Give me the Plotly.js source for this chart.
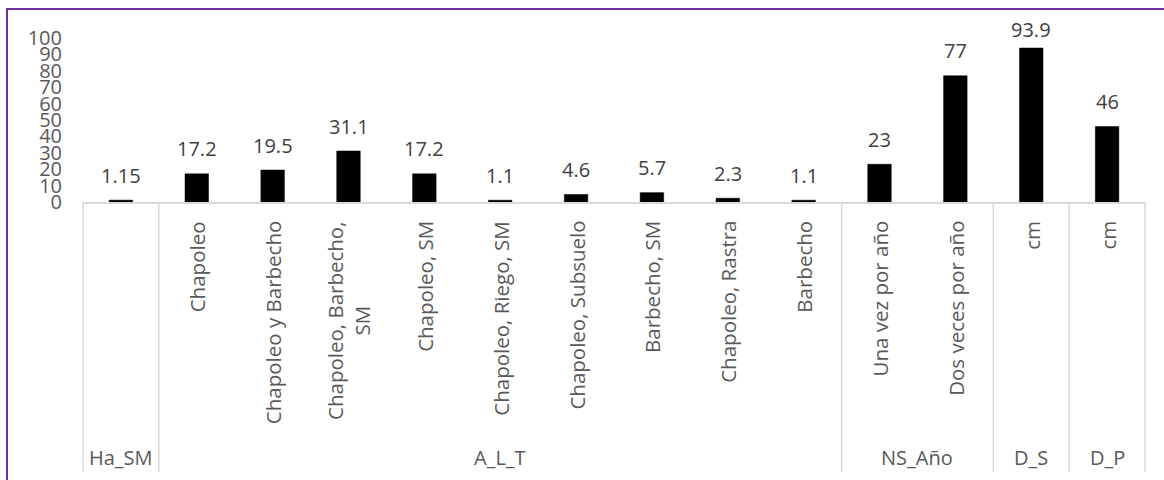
<!DOCTYPE html>
<html>
<head>
<meta charset="utf-8">
<script src="https://cdn.plot.ly/plotly-3.0.1.min.js"></script>
<style>
  html, body { margin: 0; padding: 0; background: #fff; }
  #wrap { position: relative; width: 1164px; height: 480px; overflow: hidden; }
  #chart { width: 1164px; height: 480px; }
  #frame {
    position: absolute; left: 6px; top: 8px; width: 1200px; height: 520px;
    border-left: 2px solid #7030A0; border-top: 2px solid #7030A0;
    pointer-events: none; box-sizing: border-box;
  }
</style>
</head>
<body>
<div id="wrap">
  <div id="chart"></div>
  <div id="frame"></div>
</div>
<script>
// Practices and their measured values, grouped by variable
const categories = [
  'Ha_SM',
  'Chapoleo', 'Chapoleo y Barbecho', 'Chapoleo, Barbecho, SM', 'Chapoleo, SM',
  'Chapoleo, Riego, SM', 'Chapoleo, Subsuelo', 'Barbecho, SM', 'Chapoleo, Rastra', 'Barbecho',
  'Una vez por año', 'Dos veces por año',
  'cm',
  'cm'
];
const innerLabels = [
  '',
  'Chapoleo', 'Chapoleo y Barbecho', 'Chapoleo, Barbecho,<br>SM', 'Chapoleo, SM',
  'Chapoleo, Riego, SM', 'Chapoleo, Subsuelo', 'Barbecho, SM', 'Chapoleo, Rastra', 'Barbecho',
  'Una vez por año', 'Dos veces por año',
  'cm',
  'cm'
];
const values = [1.15, 17.2, 19.5, 31.1, 17.2, 1.1, 4.6, 5.7, 2.3, 1.1, 23, 77, 93.9, 46];
const valueLabels = ['1.15', '17.2', '19.5', '31.1', '17.2', '1.1', '4.6', '5.7', '2.3', '1.1', '23', '77', '93.9', '46'];
const groups = ['Ha_SM', 'A_L_T', 'NS_Año', 'D_S', 'D_P'];
const groupSizes = [1, 9, 2, 1, 1];
const yTicks = [0, 10, 20, 30, 40, 50, 60, 70, 80, 90, 100];

const W = 1164, H = 480;
const M = { l: 83, r: 19, t: 38, b: 278 };
const plotH = H - M.t - M.b;
const pxToPaperY = px => (H - M.b - px) / plotH;

const positions = categories.map((_, i) => i);
const n = categories.length;
const FONT = '"Open Sans", "Noto Sans", sans-serif';
const AXIS_GREY = '#595959';
const LINE_GREY = '#d9d9d9';

const annotations = [];
const shapes = [];

// Data labels above each bar (kept inside the chart's top edge)
values.forEach((v, i) => {
  const barTopPx = M.t + plotH * (1 - v / 100);
  const shift = Math.min(25, barTopPx - 29.5);
  annotations.push({
    xref: 'x', yref: 'y', x: positions[i], y: v,
    text: valueLabels[i], showarrow: false,
    xanchor: 'center', yanchor: 'middle', yshift: shift,
    font: { family: FONT, size: 20, color: '#404040' }
  });
});

// Inner (rotated) category labels
innerLabels.forEach((lab, i) => {
  if (!lab) return;
  annotations.push({
    xref: 'x', yref: 'paper', x: positions[i], y: pxToPaperY(219),
    text: lab, showarrow: false, textangle: -90, align: 'center',
    xanchor: 'center', yanchor: 'top',
    font: { family: FONT, size: 20.5, color: AXIS_GREY }
  });
});

// Outer group labels and the dividers between groups
let start = 0;
const bounds = [start - 0.5];
groups.forEach((g, k) => {
  const size = groupSizes[k];
  const mid = start + (size - 1) / 2;
  annotations.push({
    xref: 'x', yref: 'paper', x: mid, y: pxToPaperY(457),
    text: g, showarrow: false, xanchor: 'center', yanchor: 'middle',
    font: { family: FONT, size: 20, color: AXIS_GREY }
  });
  start += size;
  bounds.push(start - 0.5);
});
bounds.forEach(b => {
  shapes.push({
    type: 'line', xref: 'paper', yref: 'paper',
    x0: (b + 0.5) / n, x1: (b + 0.5) / n,
    y0: 0, y1: pxToPaperY(472),
    line: { color: LINE_GREY, width: 1.5 }
  });
});

const trace = {
  type: 'bar',
  x: positions,
  y: values,
  width: 0.31,
  marker: { color: '#000000', line: { color: '#000000', width: 0.5 } },
  hoverinfo: 'skip'
};

const layout = {
  width: W, height: H,
  margin: M,
  paper_bgcolor: '#ffffff',
  plot_bgcolor: '#ffffff',
  showlegend: false,
  bargap: 0,
  xaxis: {
    type: 'linear',
    range: [-0.5, n - 0.5],
    showticklabels: false,
    showgrid: false, zeroline: false,
    showline: true, linecolor: LINE_GREY, linewidth: 1.5,
    ticks: '', fixedrange: true
  },
  yaxis: {
    range: [0, 100],
    tickvals: yTicks,
    ticktext: yTicks.map(String),
    showgrid: false, zeroline: false, showline: false,
    ticks: '',
    ticklabelstandoff: 20,
    tickfont: { family: FONT, size: 20, color: AXIS_GREY },
    fixedrange: true
  },
  annotations: annotations,
  shapes: shapes
};

Plotly.newPlot('chart', [trace], layout, { displayModeBar: false, staticPlot: true });
</script>
</body>
</html>
